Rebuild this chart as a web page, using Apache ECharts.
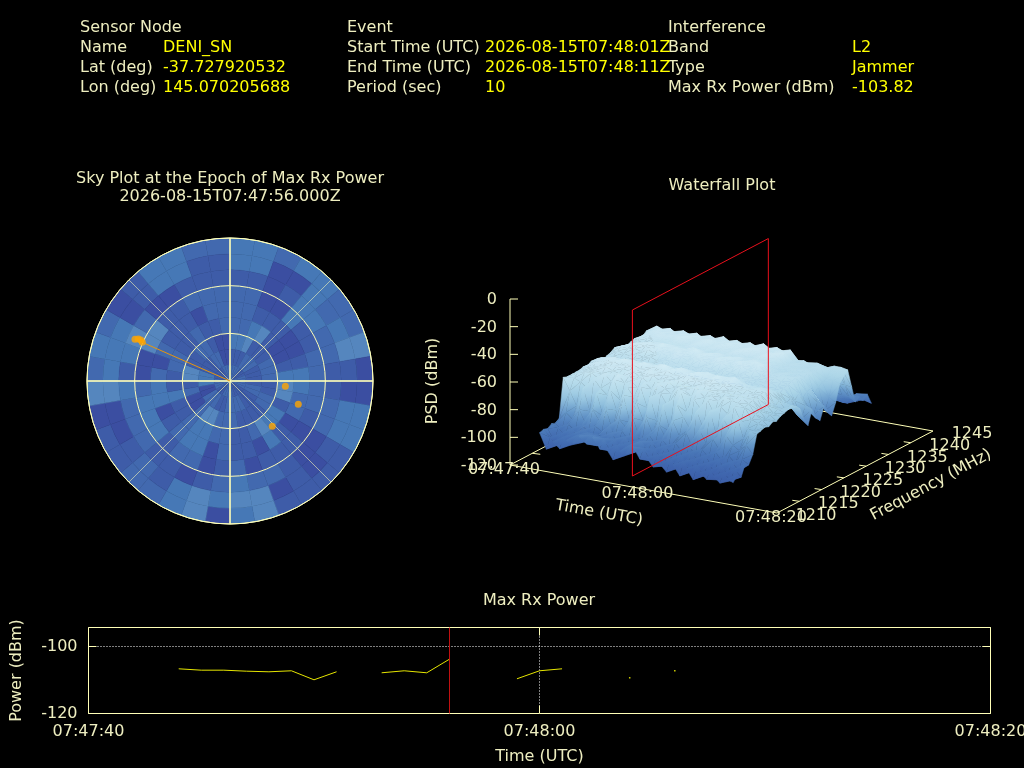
<!DOCTYPE html>
<html><head><meta charset="utf-8">
<style>html,body{margin:0;padding:0;background:#000}#c{width:1024px;height:768px}</style>
<script src="https://cdn.jsdelivr.net/npm/echarts@6/dist/echarts.min.js"></script>
</head><body><div id="c"></div>
<script>
// ---------- text ----------
const headerLabels = [
  ['Sensor Node', 'Name', 'Lat (deg)', 'Lon (deg)'],
  ['Event', 'Start Time (UTC)', 'End Time (UTC)', 'Period (sec)'],
  ['Interference', 'Band', 'Type', 'Max Rx Power (dBm)']
];
const headerValues = [
  ['', 'DENI_SN', '-37.727920532', '145.070205688'],
  ['', '2026-08-15T07:48:01Z', '2026-08-15T07:48:11Z', '10'],
  ['', 'L2', 'Jammer', '-103.82']
];
// ---------- sky plot ----------
const skyRingEdges = [90,80,70,60,50,40,30,20,10,0];
const skyAzimuthStep = 10;
const skyLevels = [
 [3,3,2,3,3,2,2,4,0,0,3,3,1,1,1,1,4,3,0,4,3,2,2,1,1,0,4,2,3,2,0,1,3,3,2,2],
 [3,3,0,0,3,2,3,4,1,0,3,3,1,0,1,0,4,4,3,4,3,1,2,1,0,0,4,3,3,3,0,1,3,3,1,1],
 [1,1,0,1,3,3,2,2,1,1,2,2,0,0,1,2,2,3,2,1,0,1,1,2,2,2,3,1,3,4,2,0,0,1,1,1],
 [2,2,0,0,3,1,1,2,2,2,2,1,0,1,1,1,0,2,1,0,2,2,1,3,3,3,2,0,0,4,4,1,1,2,2,2],
 [2,2,1,1,1,0,0,1,3,3,2,2,0,1,3,0,1,1,2,0,3,3,2,1,0,3,3,2,0,2,1,1,1,0,2,2],
 [2,2,3,4,1,0,0,1,3,4,4,1,3,3,4,2,1,1,2,2,3,3,2,1,1,3,1,1,2,2,1,1,2,1,1,2],
 [3,3,4,1,1,1,2,2,2,1,1,2,2,1,1,1,1,2,2,2,4,4,2,0,0,2,1,4,4,1,1,2,2,1,0,0],
 [1,1,1,2,2,2,1,1,1,1,2,2,1,1,1,2,2,2,2,1,1,2,2,2,0,0,3,3,3,1,1,1,2,2,0,0],
 [2,2,2,2,1,1,1,2,2,2,2,2,1,1,1,1,1,2,2,2,2,1,1,1,2,2,2,2,1,1,1,1,1,2,2,2]
];
const skyLevelColors = ['#3b4ea1','#3e5ca8','#4269af','#4678b6','#5586be'];
const satellites = [[65.3,293.7],[63.5,294.6],[61.8,294.7],[60.3,293.8],[35,95.5],[45.4,108.8],[39,137]];
const strongestSatellite = [[0,0],[60.3,293.8]];
const skyCross = [[[90,0],[90,180]],[[90,90],[90,270]]];
// ---------- waterfall ----------
const waterfallTimes = [3.5,4.5,5.5,6.5,7.5,8.5,9.5,10.5,11.5,12.5,13.5,14.5,15.5,16.5,17.5,18.5,19.5,20.5,21.5,22.5,23.5,24.5,25.5,26.5,27.5,28.5,29.5,30.5,31.5,32.5];
const waterfallFreqs = [1211.4,1212.3,1213.2,1214.1,1214.9,1215.8,1216.7,1217.6,1218.5,1219.4,1220.3,1221.1,1222.0,1222.9,1223.8,1224.7,1225.6,1226.4,1227.3,1228.2,1229.1,1230.0,1230.9,1231.8,1232.6,1233.5,1234.4,1235.3,1236.2,1237.1,1238.0,1238.8,1239.7,1240.6,1241.5,1242.4];
const waterfallPsd = [
[-96,-95,-96,-94,-95,-93,-65,-66,-66,-66,-66,-65,-66,-64,-65,-67,-68,-66,-65,-63,-64,-65,-66,-65,-64,-65,-66,-63,-66,-74,-88,-96,-98,-100,-101,-103],
[-107,-100,-104,-96,-99,-88,-74,-66,-64,-64,-63,-62,-63,-61,-62,-64,-66,-65,-63,-61,-62,-63,-64,-63,-62,-62,-61,-64,-60,-72,-86,-95,-99,-98,-102,-101],
[-101,-105,-98,-101,-94,-92,-84,-68,-63,-63,-62,-60,-62,-60,-61,-63,-65,-66,-64,-62,-60,-61,-63,-64,-62,-61,-60,-60,-62,-73,-87,-97,-98,-101,-99,-103],
[-105,-98,-103,-95,-98,-84,-70,-72,-62,-62,-61,-61,-60,-59,-60,-64,-66,-64,-65,-61,-59,-60,-62,-63,-61,-60,-60,-63,-60,-71,-85,-96,-100,-98,-102,-100],
[-98,-103,-96,-102,-93,-94,-86,-64,-65,-63,-60,-61,-59,-60,-62,-63,-67,-65,-63,-62,-60,-59,-61,-64,-62,-60,-61,-60,-63,-74,-88,-95,-97,-101,-100,-103],
[-99,-95,-102,-94,-97,-82,-72,-70,-61,-64,-62,-60,-61,-58,-61,-62,-65,-66,-64,-60,-61,-60,-60,-62,-63,-61,-60,-63,-60,-72,-84,-98,-99,-98,-103,-101],
[-93,-99,-94,-100,-92,-90,-88,-74,-66,-62,-63,-61,-60,-59,-60,-64,-64,-67,-63,-62,-59,-58,-61,-63,-61,-59,-60,-60,-62,-73,-89,-96,-100,-102,-99,-100],
[-98,-93,-101,-96,-95,-80,-68,-62,-60,-63,-61,-62,-59,-60,-62,-63,-66,-65,-65,-61,-60,-60,-60,-64,-62,-60,-59,-63,-60,-70,-86,-94,-98,-100,-101,-102],
[-92,-100,-95,-98,-90,-95,-82,-76,-65,-62,-60,-60,-61,-58,-60,-62,-65,-67,-64,-62,-61,-59,-62,-62,-63,-61,-61,-60,-63,-74,-87,-97,-101,-98,-100,-104],
[-100,-94,-99,-93,-96,-86,-70,-66,-63,-63,-62,-61,-60,-60,-61,-64,-64,-66,-63,-60,-59,-60,-61,-63,-60,-60,-60,-62,-60,-71,-85,-95,-99,-102,-101,-99],
[-99,-102,-95,-100,-92,-91,-89,-72,-67,-61,-61,-59,-62,-59,-59,-63,-67,-64,-65,-61,-60,-61,-59,-64,-62,-59,-59,-60,-62,-73,-88,-98,-97,-100,-103,-101],
[-106,-97,-103,-94,-98,-83,-74,-64,-62,-64,-60,-60,-60,-57,-60,-62,-65,-65,-63,-63,-61,-58,-60,-62,-61,-61,-60,-61,-59,-72,-84,-96,-100,-99,-100,-102],
[-99,-104,-96,-100,-93,-96,-86,-78,-66,-62,-63,-61,-59,-60,-61,-64,-66,-67,-64,-61,-59,-60,-62,-63,-63,-60,-61,-60,-62,-75,-89,-97,-98,-103,-101,-100],
[-100,-95,-102,-95,-97,-81,-68,-70,-61,-63,-61,-60,-61,-58,-59,-63,-64,-65,-65,-60,-60,-59,-61,-64,-61,-60,-59,-62,-60,-71,-86,-95,-101,-99,-102,-103],
[-94,-99,-93,-98,-91,-92,-84,-66,-64,-61,-62,-62,-60,-59,-60,-62,-66,-66,-63,-62,-61,-60,-60,-62,-62,-61,-60,-60,-62,-73,-87,-99,-97,-100,-100,-101],
[-102,-96,-100,-94,-97,-85,-72,-74,-67,-64,-60,-61,-59,-60,-62,-64,-65,-64,-64,-61,-59,-61,-62,-63,-60,-60,-61,-61,-60,-72,-85,-96,-99,-102,-103,-100],
[-100,-104,-97,-101,-93,-94,-90,-68,-62,-62,-61,-59,-60,-58,-61,-63,-67,-66,-65,-60,-60,-59,-61,-64,-61,-59,-60,-60,-62,-74,-88,-97,-100,-98,-101,-102],
[-106,-99,-103,-95,-98,-80,-70,-62,-63,-63,-63,-60,-61,-59,-59,-62,-64,-67,-63,-62,-61,-60,-60,-62,-63,-60,-59,-62,-59,-70,-86,-95,-98,-101,-100,-103],
[-103,-106,-98,-102,-94,-90,-78,-76,-66,-61,-62,-61,-60,-60,-60,-64,-66,-65,-64,-61,-59,-61,-62,-63,-62,-61,-60,-60,-62,-73,-87,-98,-99,-100,-102,-101],
[-108,-100,-104,-96,-99,-87,-86,-66,-61,-64,-60,-60,-59,-58,-61,-63,-65,-66,-65,-60,-60,-60,-60,-64,-60,-60,-61,-62,-60,-72,-84,-96,-101,-99,-101,-100],
[-102,-106,-98,-103,-94,-97,-72,-72,-65,-62,-61,-62,-61,-60,-60,-62,-67,-64,-63,-62,-61,-59,-61,-62,-61,-59,-60,-60,-62,-74,-88,-97,-98,-102,-100,-103],
[-109,-100,-105,-96,-100,-83,-84,-64,-63,-63,-62,-60,-60,-59,-59,-64,-64,-65,-65,-61,-59,-60,-62,-63,-63,-61,-59,-61,-60,-71,-85,-95,-100,-100,-103,-101],
[-103,-107,-99,-103,-95,-92,-70,-74,-66,-65,-63,-63,-62,-61,-62,-65,-67,-67,-66,-64,-63,-64,-65,-66,-65,-65,-66,-65,-69,-71,-88,-98,-97,-101,-100,-102],
[-110,-101,-106,-97,-100,-88,-88,-68,-62,-64,-64,-62,-63,-62,-63,-66,-68,-66,-67,-65,-64,-65,-66,-67,-66,-66,-65,-68,-66,-70,-86,-96,-99,-99,-102,-100],
[-104,-108,-100,-104,-95,-95,-74,-72,-64,-65,-63,-64,-62,-63,-64,-65,-69,-68,-66,-64,-65,-64,-65,-68,-65,-67,-66,-65,-69,-71,-89,-97,-100,-102,-101,-103],
[-108,-103,-106,-98,-101,-84,-82,-66,-65,-63,-65,-63,-64,-62,-63,-67,-67,-69,-68,-66,-64,-66,-67,-66,-67,-66,-67,-69,-66,-69,-85,-95,-98,-100,-100,-99],
[-105,-109,-100,-105,-96,-90,-70,-76,-67,-66,-65,-64,-64,-63,-65,-66,-68,-70,-68,-67,-66,-65,-66,-68,-66,-67,-68,-66,-69,-70,-87,-96,-97,-101,-103,-101],
[-109,-103,-106,-98,-101,-93,-86,-80,-75,-73,-72,-73,-71,-72,-74,-72,-75,-76,-75,-78,-74,-79,-76,-75,-80,-77,-75,-74,-70,-68,-82,-92,-96,-99,-100,-102],
[-105,-108,-101,-104,-97,-88,-80,-81,-77,-76,-77,-75,-76,-74,-76,-78,-76,-80,-86,-90,-82,-88,-92,-84,-86,-93,-85,-74,-70,-68,-82,-92,-95,-93,-98,-100],
[-107,-103,-106,-98,-100,-94,-81,-80,-79,-80,-78,-79,-77,-76,-75,-74,-76,-79,-88,-94,-84,-92,-95,-86,-91,-96,-88,-76,-72,-69,-83,-95,-93,-97,-94,-102]
];
const waterfallPalette = [[-112,'#3a5aa5'],[-104,'#3f66ae'],[-96,'#4a78b8'],[-88,'#6496c8'],[-80,'#8fbfdd'],[-72,'#add6e8'],[-64,'#bfe0ee'],[-56,'#d8eef6']];
const psdTicks = [0,-20,-40,-60,-80,-100,-120];
const timeTicks = [[0,'07:47:40'],[20,'07:48:00'],[40,'07:48:20']];
const freqTicks = [1210,1215,1220,1225,1230,1235,1240,1245];
const epochPlane = {time:16, freqs:[1213.5,1244], psd:[-120,0]};
// ---------- max rx power ----------
const powerLine = [[4,-106.66],[5,-107.07],[6,-107.07],[7,-107.37],[8,-107.55],[9,-107.25],[10,-109.94],[11,-107.55],[12,null],[13,-107.85],[14,-107.25],[15,-107.85],[16,-103.82],[17,null],[19,-109.64],[20,-107.25],[21,-106.66]];
const powerDots = [[24,-109.34],[26,-107.25]];
const powerEpoch = 16;
const powerTickLabels = {0:'07:47:40',20:'07:48:00',40:'07:48:20'};

// ---------- style ----------
const FONT = 'DejaVu Sans', FS = 16, TXT = '#eeeec0', LINE = '#ffffb8', VAL = '#ffff00';
const parse = h => [1,3,5].map(k => parseInt(h.substr(k,2),16));
function psdColor(z){
  const p = waterfallPalette;
  if (z <= p[0][0]) return p[0][1];
  for (let k=1;k<p.length;k++) if (z <= p[k][0]) {
    const f=(z-p[k-1][0])/(p[k][0]-p[k-1][0]), a=parse(p[k-1][1]), b=parse(p[k][1]);
    return 'rgb('+a.map((v,i)=>Math.round(v+(b[i]-v)*f)).join(',')+')';
  }
  return p[p.length-1][1];
}
// linear 3D view: one screen vector per data axis
const view = {origin:[510,465], time:[267,48], freq:[156,-82], psd:166};
function project(t,f,z){
  const a=t/40, b=(f-1210)/35, c=(z+120)/120;
  return [view.origin[0]+a*view.time[0]+b*view.freq[0], view.origin[1]+a*view.time[1]+b*view.freq[1]-c*view.psd];
}
function triangle(P, Z){
  let lo=0, hi=0;
  for (let k=1;k<3;k++){ if(Z[k]<Z[lo])lo=k; if(Z[k]>Z[hi])hi=k; }
  const zmin=Z[lo], zmax=Z[hi];
  let fill;
  const ux=P[1][0]-P[0][0], uy=P[1][1]-P[0][1], vx=P[2][0]-P[0][0], vy=P[2][1]-P[0][1];
  const det=ux*vy-uy*vx, dz1=Z[1]-Z[0], dz2=Z[2]-Z[0];
  if (Math.abs(det)<1e-3 || zmax-zmin<0.01) fill=psdColor((Z[0]+Z[1]+Z[2])/3);
  else {
    const gx=(dz1*vy-dz2*uy)/det, gy=(dz2*ux-dz1*vx)/det, g2=gx*gx+gy*gy, d=zmax-zmin;
    const x1=P[lo][0]+gx*d/g2, y1=P[lo][1]+gy*d/g2;
    fill=new echarts.graphic.LinearGradient(P[lo][0],P[lo][1],x1,y1,[
      {offset:0,color:psdColor(zmin)},{offset:0.5,color:psdColor((zmin+zmax)/2)},{offset:1,color:psdColor(zmax)}],true);
  }
  return {type:'polygon',shape:{points:P},style:{fill:fill,stroke:fill,lineWidth:0.5}};
}
const waterfallCells=[];
for(let j=waterfallFreqs.length-2;j>=0;j--) for(let i=0;i<waterfallTimes.length-1;i++) waterfallCells.push([i,j]);

const backFrame=[[0,1210,-120,0,1245,-120],[0,1245,-120,40,1245,-120]];
const frontFrame=[[0,1210,-120,40,1210,-120],[40,1210,-120,40,1245,-120],[0,1210,-120,0,1210,0]];
const planeFrame=[
 [epochPlane.time,epochPlane.freqs[0],epochPlane.psd[0],epochPlane.time,epochPlane.freqs[0],epochPlane.psd[1]],
 [epochPlane.time,epochPlane.freqs[0],epochPlane.psd[1],epochPlane.time,epochPlane.freqs[1],epochPlane.psd[1]],
 [epochPlane.time,epochPlane.freqs[1],epochPlane.psd[1],epochPlane.time,epochPlane.freqs[1],epochPlane.psd[0]],
 [epochPlane.time,epochPlane.freqs[1],epochPlane.psd[0],epochPlane.time,epochPlane.freqs[0],epochPlane.psd[0]]];
function segSeries(list,color,z){
  return {type:'custom',coordinateSystem:'cartesian2d',xAxisIndex:0,yAxisIndex:0,z:z,silent:true,animation:false,clip:false,
    data:list.map((s,k)=>[k,0]),
    renderItem:(p,api)=>{
      const s=list[api.value(0)];
      const a=project(s[0],s[1],s[2]), b=project(s[3],s[4],s[5]);
      const A=api.coord([a[0]+(s[6]||0),a[1]+(s[7]||0)]), B=api.coord([b[0]+(s[8]||0),b[1]+(s[9]||0)]);
      return {type:'line',shape:{x1:A[0],y1:A[1],x2:B[0],y2:B[1]},style:{stroke:color,lineWidth:1}};
    }};
}
const psdTickSegs=psdTicks.map(z=>[0,1210,z,0,1210,z,0,0,8,0]);
const freqTickSegs=freqTicks.slice(1,-1).map(f=>[40,f,-120,40,f,-120,0,0,-7,-1]);
const backTickSegs=freqTicks.slice(1,-1).map(f=>[0,f,-120,0,f,-120,0,0,8,1]);
const labels3d=[];
psdTicks.forEach(z=>labels3d.push({p:[0,1210,z],dx:-13,dy:1,text:String(z),align:'right'}));
timeTicks.forEach(t=>labels3d.push({p:[t[0],1210,-120],dx:-6,dy:5,text:t[1],align:'center'}));
freqTicks.forEach(f=>labels3d.push({p:[40,f,-120],dx:39,dy:3,text:String(f),align:'center'}));

const graphicText=[];
headerLabels.forEach((col,c)=>col.forEach((t,r)=>graphicText.push({type:'text',x:[80,347,668][c],y:28+r*20,style:{text:t,fill:TXT,font:FS+'px "'+FONT+'"',textVerticalAlign:'middle'}})));
headerValues.forEach((col,c)=>col.forEach((t,r)=>{ if(t) graphicText.push({type:'text',x:[163,485,852][c],y:28+r*20,style:{text:t,fill:VAL,font:FS+'px "'+FONT+'"',textVerticalAlign:'middle'}}); }));
const centered=(t,x,y,rot)=>({type:'text',x:x,y:y,rotation:(rot||0)*Math.PI/180,style:{text:t,fill:TXT,font:FS+'px "'+FONT+'"',textAlign:'center',textVerticalAlign:'middle'}});
graphicText.push(centered('Sky Plot at the Epoch of Max Rx Power',230,179),centered('2026-08-15T07:47:56.000Z',230,197),
  centered('Waterfall Plot',722,186),centered('Max Rx Power',539,601),
  centered('PSD (dBm)',433,381,90),centered('Time (UTC)',599,513,-10),centered('Frequency (MHz)',931,485,28));

const chart=echarts.init(document.getElementById('c'),null,{renderer:'canvas',width:1024,height:768});
const tickFmt=v=>powerTickLabels[v]||'';
const axisText={color:TXT,fontFamily:FONT,fontSize:FS};
const dotted={show:true,showMinLine:false,showMaxLine:false,lineStyle:{color:'#ffffff',type:[1,2],width:1}};
const tickBase={inside:true,length:8,lineStyle:{color:LINE}};
const noLine={show:false,onZero:false};
chart.setOption({
  animation:false,backgroundColor:'#000',
  graphic:{elements:graphicText},
  polar:{center:[230,381],radius:143},
  angleAxis:{type:'value',min:0,max:360,interval:45,startAngle:90,clockwise:true,z:3,
    axisLine:{show:true,lineStyle:{color:LINE,width:1}},axisTick:{show:false},axisLabel:{show:false},
    splitLine:{show:true,lineStyle:{color:'rgba(255,255,184,0.7)',width:0.8}},minorTick:{show:false}},
  radiusAxis:{type:'value',min:0,max:90,interval:30,z:3,axisLine:{show:false},axisTick:{show:false},axisLabel:{show:false},
    splitLine:{show:true,lineStyle:{color:LINE,width:1}}},
  grid:[{left:0,top:0,width:1024,height:768,show:false,outerBoundsMode:'none'},
        {left:88.5,top:627.5,width:902,height:86,show:true,borderColor:LINE,borderWidth:1,backgroundColor:'transparent',outerBoundsMode:'none'}],
  xAxis:[
    {gridIndex:0,type:'value',min:0,max:1024,show:false},
    {gridIndex:1,type:'value',min:0,max:40,interval:20,position:'bottom',name:'Time (UTC)',nameLocation:'middle',nameGap:35,nameTextStyle:axisText,
     axisLine:noLine,axisTick:tickBase,axisLabel:Object.assign({formatter:tickFmt,margin:10,hideOverlap:false},axisText),
     splitLine:dotted},
    {gridIndex:1,type:'value',min:0,max:40,interval:20,position:'top',axisLine:noLine,axisLabel:{show:false},axisTick:tickBase,splitLine:{show:false}}
  ],
  yAxis:[
    {gridIndex:0,type:'value',min:0,max:768,inverse:true,show:false},
    {gridIndex:1,type:'value',min:-120,max:-94.33,interval:20,position:'left',name:'Power (dBm)',nameLocation:'middle',nameGap:64,nameRotate:90,nameTextStyle:axisText,
     axisLine:noLine,axisTick:tickBase,
     axisLabel:Object.assign({margin:11,showMaxLabel:false,formatter:v=>v<=-100?String(v):''},axisText),
     splitLine:dotted},
    {gridIndex:1,type:'value',min:-120,max:-94.33,interval:20,position:'right',axisLine:noLine,axisLabel:{show:false},axisTick:tickBase,splitLine:{show:false}}
  ],
  series:[
    {type:'custom',coordinateSystem:'polar',z:2,silent:true,animation:false,progressive:0,
     data:skyLevels.flatMap((row,r)=>row.map((v,k)=>[skyRingEdges[r],k*skyAzimuthStep,skyRingEdges[r+1],(k+1)*skyAzimuthStep,v])),
     renderItem:(p,api)=>{
       const c=api.coord([0,0]), o=api.coord([api.value(0),0]), n=api.coord([api.value(2),0]);
       const R=Math.hypot(o[0]-c[0],o[1]-c[1]), r0=Math.hypot(n[0]-c[0],n[1]-c[1]);
       const col=skyLevelColors[api.value(4)];
       return {type:'sector',shape:{cx:c[0],cy:c[1],r0:r0,r:R,clockwise:true,
         startAngle:(api.value(1)-90)*Math.PI/180,endAngle:(api.value(3)-90)*Math.PI/180},
         style:{fill:col,stroke:col,lineWidth:0.5}};
     }},
    ...skyCross.map(d=>({type:'line',coordinateSystem:'polar',data:d,z:4,symbol:'none',silent:true,lineStyle:{color:LINE,width:1.5}})),
    {type:'line',coordinateSystem:'polar',data:strongestSatellite,z:5,symbol:'none',silent:true,lineStyle:{color:'#e8960c',width:1}},
    {type:'scatter',coordinateSystem:'polar',data:satellites,z:6,symbol:'circle',symbolSize:7,silent:true,itemStyle:{color:'#ffa500'}},

    segSeries(backFrame,LINE,3), segSeries(backTickSegs,LINE,3),
    {type:'custom',coordinateSystem:'cartesian2d',xAxisIndex:0,yAxisIndex:0,z:4,silent:true,animation:false,progressive:0,clip:false,
     data:waterfallCells,
     renderItem:(p,api)=>{
       const i=api.value(0), j=api.value(1);
       const zz=[waterfallPsd[i][j],waterfallPsd[i+1][j],waterfallPsd[i+1][j+1],waterfallPsd[i][j+1]];
       const pts=[[i,j],[i+1,j],[i+1,j+1],[i,j+1]].map((q,k)=>{
         const s=project(waterfallTimes[q[0]],waterfallFreqs[q[1]],zz[k]); return api.coord(s);});
       return {type:'group',children:[
         triangle([pts[0],pts[1],pts[2]],[zz[0],zz[1],zz[2]]),
         triangle([pts[0],pts[2],pts[3]],[zz[0],zz[2],zz[3]])]};
     }},
    segSeries(frontFrame,LINE,5), segSeries(psdTickSegs,LINE,5), segSeries(freqTickSegs,LINE,5),
    segSeries(planeFrame,'#e8101c',6),
    {type:'custom',coordinateSystem:'cartesian2d',xAxisIndex:0,yAxisIndex:0,z:7,silent:true,animation:false,clip:false,
     data:labels3d.map((l,k)=>[k,0]),
     renderItem:(p,api)=>{
       const l=labels3d[api.value(0)], s=project(l.p[0],l.p[1],l.p[2]), c=api.coord([s[0]+l.dx,s[1]+l.dy]);
       return {type:'text',x:c[0],y:c[1],style:{text:l.text,fill:TXT,font:FS+'px "'+FONT+'"',textAlign:l.align,textVerticalAlign:'middle'}};
     }},

    {type:'line',xAxisIndex:1,yAxisIndex:1,data:powerLine,z:4,connectNulls:false,symbol:'none',silent:true,lineStyle:{color:'#e6e600',width:1},
     markLine:{silent:true,symbol:'none',animation:false,label:{show:false},lineStyle:{color:'#c01010',type:'solid',width:1},data:[{xAxis:powerEpoch}]}},
    {type:'scatter',xAxisIndex:1,yAxisIndex:1,data:powerDots,z:4,symbol:'rect',symbolSize:1.5,silent:true,itemStyle:{color:'#ffff00'}}
  ]
});
</script></body></html>
